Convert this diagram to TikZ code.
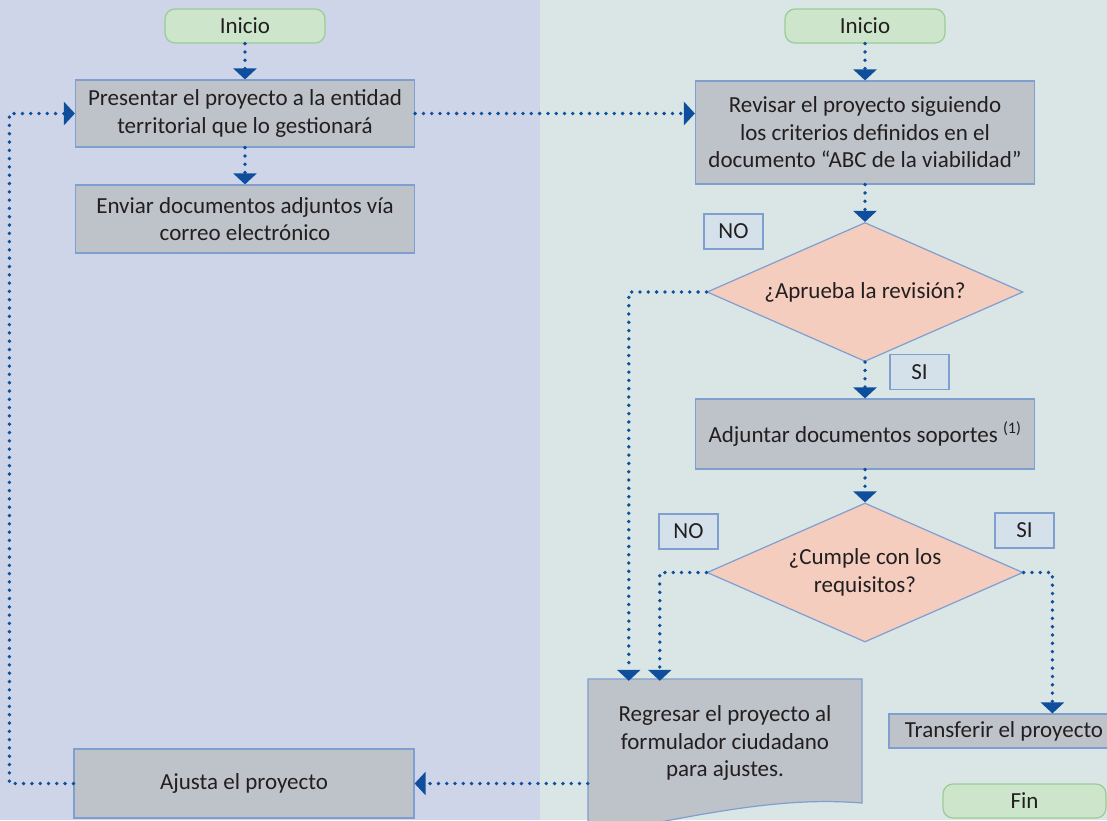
\documentclass[tikz,border=0pt]{standalone}
\usepackage{fontspec}
\setmainfont{Carlito}
\usetikzlibrary{arrows.meta,shapes.geometric}
\definecolor{fondoA}{HTML}{CFD5E8}
\definecolor{fondoB}{HTML}{DAE5E6}
\definecolor{gris}{HTML}{BEC2C9}
\definecolor{borde}{HTML}{7F9FCF}
\definecolor{salmon}{HTML}{F4CDBE}
\definecolor{celeste}{HTML}{D4E1EA}
\definecolor{verde}{HTML}{9CCB98}
\definecolor{verdeclaro}{HTML}{CCE5CB}
\definecolor{azul}{HTML}{0E4E9C}
\definecolor{texto}{HTML}{231F20}
\tikzset{every node/.style={font=\fontsize{23}{27.5}\selectfont, text=texto, align=center, inner sep=2pt},
  caja/.style={rectangle, draw=borde, fill=gris, line width=1.2pt},
  rombo/.style={diamond, draw=borde, fill=salmon, line width=1.2pt, aspect=2.3, inner sep=0pt, minimum width=316pt, minimum height=139pt},
  inicio/.style={rectangle, rounded corners=10pt, draw=verde, fill=verdeclaro, line width=1.2pt, minimum width=160pt, minimum height=34pt},
  etiq/.style={rectangle, draw=borde, fill=celeste, line width=1.2pt, minimum width=59pt, minimum height=35pt},
  flecha/.style={draw=azul, line width=3.8pt, line cap=round, dash pattern=on 0pt off 8.3pt, -{Triangle[width=23pt,length=11pt]}}}

\begin{document}
\begin{tikzpicture}[x=1pt,y=-1pt]
   \clip (0,0) rectangle (1107,820);
   \fill[fondoA] (0,0) rectangle (540,820);
   \fill[fondoB] (540,0) rectangle (1107,820);
   \begin{scope}
    \node[inicio] (i1) at (245, 26.0) {Inicio};
    \node[caja, minimum width=339pt, minimum height=67pt] (p)  at (245,113.5) {Presentar el proyecto a la entidad\\territorial que lo gestionará};
    \node[caja, minimum width=339pt, minimum height=68pt] (e)  at (245,219.0) {Enviar documentos adjuntos vía\\correo electrónico};
    \node[caja, minimum width=340pt, minimum height=69pt] (aj) at (244,783.5) {Ajusta el proyecto};
   \end{scope}
   \begin{scope}
    \node[inicio] (i2) at (865, 26.0) {Inicio};
    \node[caja, minimum width=339pt, minimum height=103pt] (r) at (865,132.5) {Revisar el proyecto siguiendo\\los criterios definidos en el\\documento ``ABC de la viabilidad''};
    \node[rombo] (d1) at (865,292.0) {¿Aprueba la revisión?};
    \node[caja, minimum width=339pt, minimum height=70pt] (ad) at (865,434.0) {Adjuntar documentos soportes \textsuperscript{(1)}};
    \node[rombo] (d2) at (865,572.5) {¿Cumple con los\\requisitos?};
    \node[etiq] (no1) at (733.5,231.5) {NO};
    \node[etiq] (si1) at (919.5,372.0) {SI};
    \node[etiq] (no2) at (688.5,531.5) {NO};
    \node[etiq] (si2) at (1024.5,530.5) {SI};
    \path[caja] (588,679) -- (862,679) -- (862,803)
     .. controls (800,798) and (740,806) .. (640,826) -- (588,830) -- cycle;
    \node[minimum width=274pt, minimum height=124pt] (rg) at (725,743) {Regresar el proyecto al\\formulador ciudadano\\para ajustes.};
    \node[caja, minimum width=230pt, minimum height=34pt] (t) at (1004,731) {Transferir el proyecto};
    \node[inicio, minimum width=163pt] (f) at (1024.5,801) {Fin};
   \end{scope}
   \draw[flecha] (i1) -- (p);
   \draw[flecha] (p) -- (e);
   \draw[flecha] (i2) -- (r);
   \draw[flecha] (r) -- (d1);
   \draw[flecha] (d1) -- (ad);
   \draw[flecha] (ad) -- (d2);
   \draw[flecha] (p.east) -- (p.east -| r.west);
   \draw[flecha] (d1.west) -| ([xshift=41pt]rg.north west);
   \draw[flecha] (d2.west) -| ([xshift=72pt]rg.north west);
   \draw[flecha] (d2.east) -| ([xshift=164pt]t.north west);
   \draw[flecha] (aj.east -| rg.west) -- (aj.east);
   \draw[flecha] (aj.west) -- ++(-64,0) |- (p.west);
  \end{tikzpicture}
\end{document}
